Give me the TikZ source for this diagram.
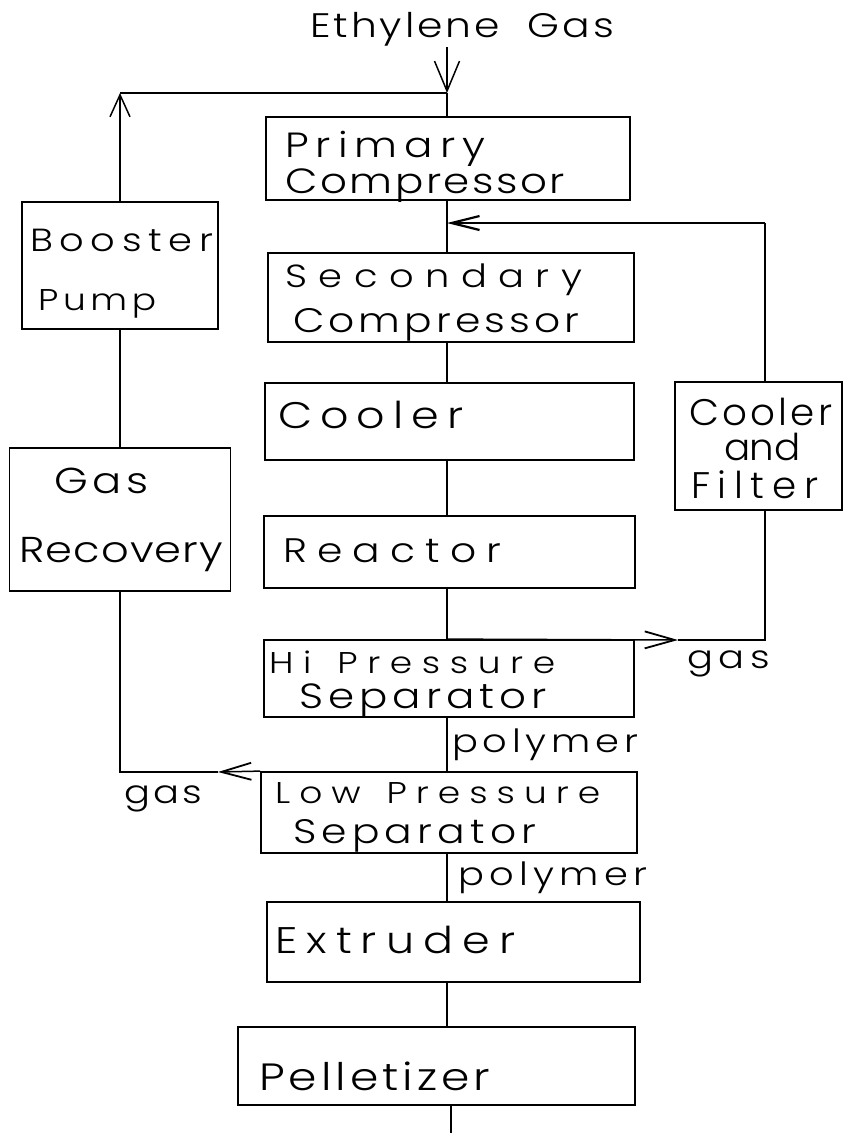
\documentclass[tikz,border=0pt]{standalone}
\usepackage{fontspec}
\IfFontExistsTF{Poppins Light}{\setmainfont{Poppins Light}}{\setmainfont{Poppins}}
\usetikzlibrary{arrows.meta}
\newlength\wa \newlength\wb
\newcommand\fitw[4][1.2]{%
 \fontsize{#2}{#2}\selectfont\addfontfeature{FakeStretch=#1}%
 \settowidth\wa{#4}%
 \settowidth\wb{\addfontfeature{LetterSpace=10}#4}%
 \pgfmathsetmacro\lsv{10*(#3-\wa)/(\wb-\wa)}%
 \addfontfeature{LetterSpace=\lsv}#4}
\tikzset{
 box/.style={draw, line width=1.8pt, inner sep=0pt, rectangle},
 lbl/.style={anchor=base west, inner sep=0pt},
 ln/.style={line width=1.5pt},
 arrE/.style={-{Straight Barb[length=30pt,width=25pt,line width=1.5pt]}},
 arrU/.style={-{Straight Barb[length=22pt,width=20pt,line width=1.5pt]}},
 arrH/.style={-{Straight Barb[length=30pt,width=17pt,line width=1.8pt]}},
 arrT/.style={-{Straight Barb[length=28pt,width=14pt,line width=2.2pt]}}
}
\begin{document}
\begin{tikzpicture}[x=1pt,y=-1pt]
\useasboundingbox (0,0) rectangle (844,1133);
% boxes
\node[box, minimum width=364pt, minimum height=83pt] (prim) at (448,158.5) {};
\node[box, minimum width=366pt, minimum height=89pt] (sec) at (451,297.5) {};
\node[box, minimum width=369pt, minimum height=77pt] (cool) at (449.5,421.5) {};
\node[box, minimum width=371pt, minimum height=72pt] (reac) at (449.5,552) {};
\node[box, minimum width=370pt, minimum height=77pt] (hps) at (449,678.5) {};
\node[box, minimum width=376pt, minimum height=81pt] (lps) at (449,812.5) {};
\node[box, minimum width=373pt, minimum height=80pt] (extr) at (453.5,942) {};
\node[box, minimum width=397pt, minimum height=78pt] (pell) at (436.5,1066) {};
\node[box, minimum width=196pt, minimum height=127pt] (boost) at (120,265.5) {};
\node[box, minimum width=221pt, minimum height=143pt] (gasrec) at (120,519.5) {};
\node[box, minimum width=167pt, minimum height=128pt] (cf) at (758.5,446) {};
% labels
\node[lbl] (tEth) at (310,37) {\fitw{34}{304}{Ethylene\hspace{28pt}Gas}};
\node[lbl] (tPri) at (285,157) {\fitw{35}{200}{Primary}};
\node[lbl] (tPri2) at (285,193) {\fitw{35}{280}{Compressor}};
\node[lbl] (tBoo) at (30,251) {\fitw{32}{183}{Booster}};
\node[lbl] (tBoo2) at (38,310) {\fitw{30}{118}{Pump}};
\node[lbl] (tSec) at (285,287) {\fitw{32}{297}{Secondary}};
\node[lbl] (tSec2) at (293,332) {\fitw{34}{286}{Compressor}};
\node[lbl] (tCoo) at (278,428) {\fitw{37}{185}{Cooler}};
\node[lbl] (tGas) at (54,493) {\fitw{36}{94}{Gas}};
\node[lbl] (tGas2) at (19,562) {\fitw{36}{204}{Recovery}};
\node[lbl] (tCf1) at (689,425) {\fitw[1.05]{37}{143}{Cooler}};
\node[lbl] (tCf2) at (724,460) {\fitw[1.05]{37}{76}{and}};
\node[lbl] (tCf3) at (691,498) {\fitw[1.05]{37}{127}{Filter}};
\node[lbl] (tRea) at (283,562) {\fitw{34}{218}{Reactor}};
\node[lbl] (tgasR) at (687,668) {\fitw{32}{83}{gas}};
\node[lbl] (tHps) at (269,673) {\fitw{30}{286}{Hi\hspace{26pt}Pressure}};
\node[lbl] (tHps2) at (299,708) {\fitw{35}{248}{Separator}};
\node[lbl] (tPol1) at (452,752) {\fitw{32}{186}{polymer}};
\node[lbl] (tgasL) at (124,803) {\fitw{32}{78}{gas}};
\node[lbl] (tLps) at (275,803) {\fitw{30}{325}{Low\hspace{26pt}Pressure}};
\node[lbl] (tLps2) at (293,843) {\fitw{34}{243}{Separator}};
\node[lbl] (tPol2) at (458,885) {\fitw{32}{189}{polymer}};
\node[lbl] (tExt) at (275,953) {\fitw{37}{240}{Extruder}};
\node[lbl] (tPel) at (259,1090) {\fitw{38}{231}{Pelletizer}};
% coordinates
\coordinate (mx) at (447,0);
\coordinate (ein) at (447,47);
\coordinate (jtop) at (447,93);
\coordinate (jmid) at (447,223);
\coordinate (r1) at (765,640);
\coordinate (r2) at (765,223);
\coordinate (gr) at (678,640);
\coordinate (gl) at (218,772);
\coordinate (bot) at (451,1133);
% connectors
\draw[ln, arrE] (ein) -- (jtop);
\draw[ln] (jtop) -- (prim.north -| mx);
\draw[ln] (jtop) -- (boost.north |- jtop);
\draw[ln, arrU] (boost.north) -- (boost.north |- jtop);
\draw[ln] (boost.south) -- (gasrec.north);
\draw[ln] (prim.south -| mx) -- (sec.north -| mx);
\draw[ln] (sec.south -| mx) -- (cool.north -| mx);
\draw[ln] (cool.south -| mx) -- (reac.north -| mx);
\draw[ln] (reac.south -| mx) -- (hps.north -| mx);
\draw[ln] (hps.south -| mx) -- (lps.north -| mx);
\draw[ln] (lps.south -| mx) -- (extr.north -| mx);
\draw[ln] (extr.south -| mx) -- (pell.north -| mx);
\draw[ln] (pell.south -| bot) -- (bot);
\draw[ln, arrH] (hps.north -| mx) -- (gr);
\draw[ln] (gr) -- (r1) -- (r1 |- cf.south);
\draw[ln] (r2 |- cf.north) -- (r2);
\draw[ln, arrT] (r2) -- (jmid);
\draw[ln, arrH] (lps.north west) -- (gl);
\draw[ln] (gl) -- (gasrec.south |- gl) -- (gasrec.south);
\end{tikzpicture}
\end{document}
